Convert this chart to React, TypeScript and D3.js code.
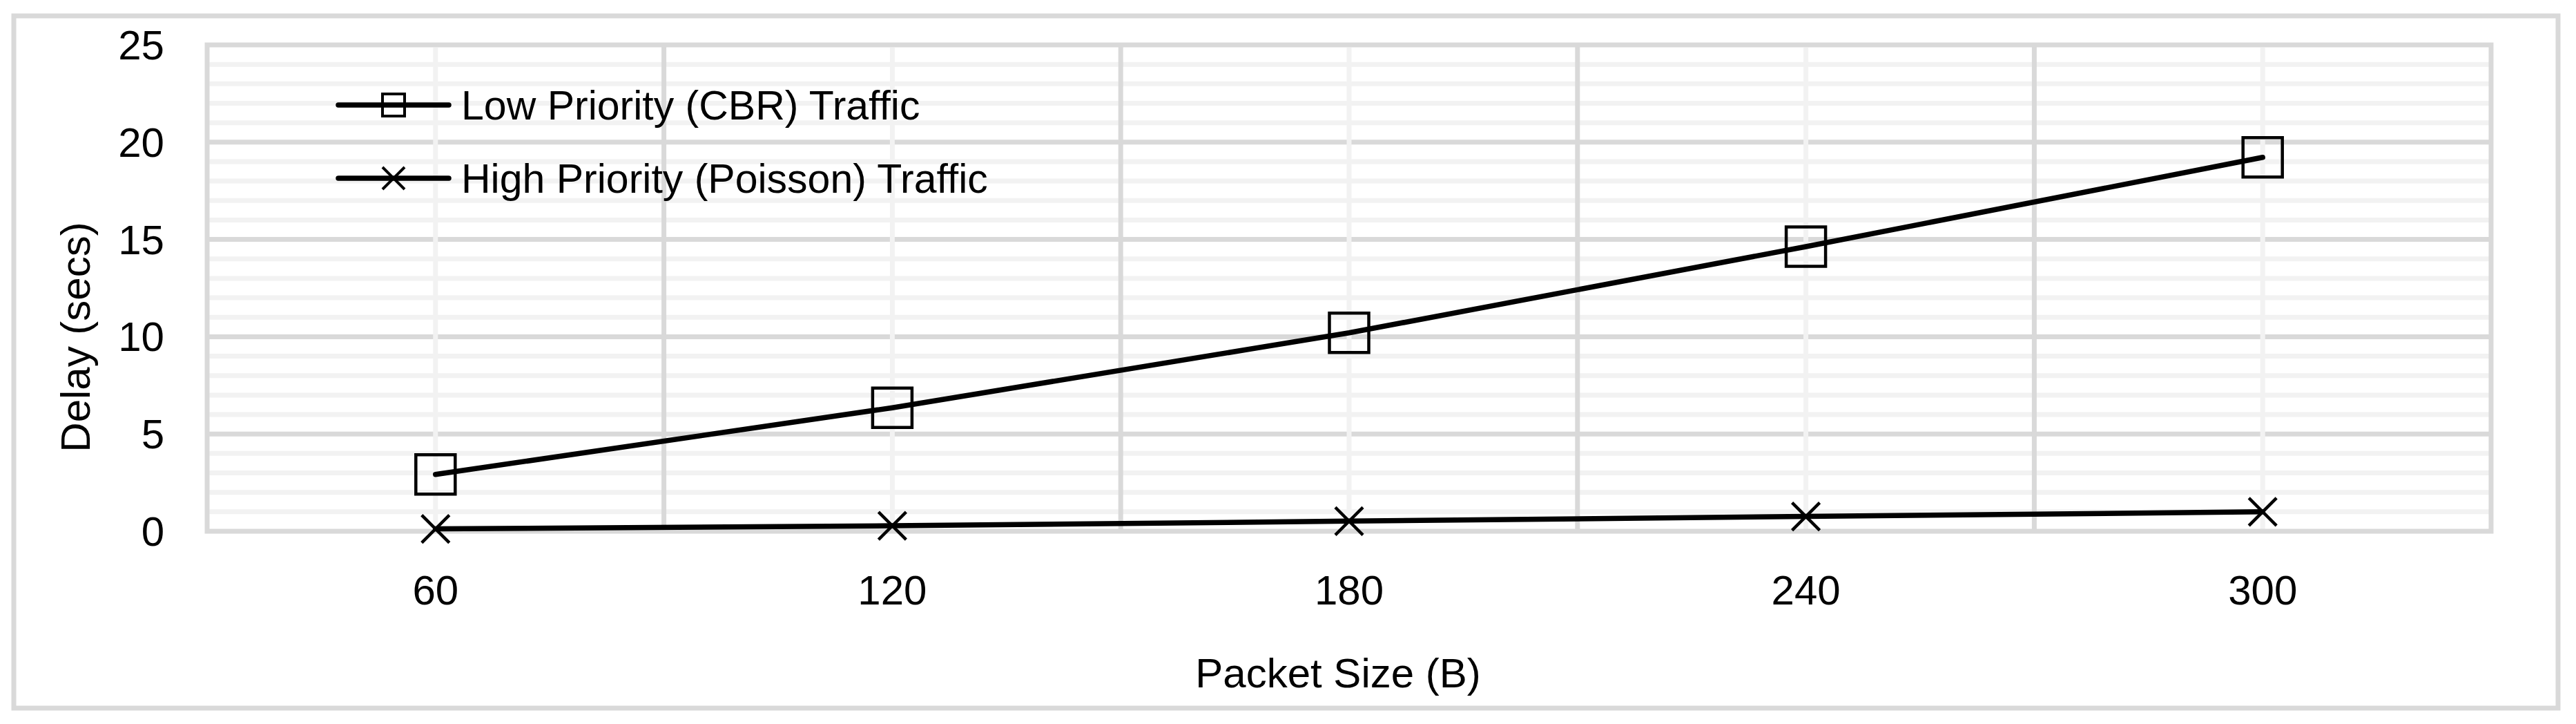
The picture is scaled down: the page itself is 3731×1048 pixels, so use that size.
import React, { useEffect, useRef } from "react";
import * as d3 from "d3";

// packet sizes on the x axis
const packetSizes = ["60", "120", "180", "240", "300"];
// delay in seconds
const lowPriorityDelay = [2.92, 6.35, 10.2, 14.63, 19.22];
const highPriorityDelay = [0.12, 0.28, 0.52, 0.76, 1.0];
const yTicks = [0, 5, 10, 15, 20, 25];
const seriesNames = ["Low Priority (CBR) Traffic", "High Priority (Poisson) Traffic"];

const WIDTH = 3731;
const HEIGHT = 1048;

const App = () => {
  const svgRef = useRef<SVGSVGElement>(null);

  useEffect(() => {
    const svg = d3.select(svgRef.current);
    svg.selectAll("*").remove();

    const font = "'Liberation Sans', Arial, sans-serif";
    const fontSize = 60;
    const margin = { top: 65, right: 123, bottom: 279, left: 300 };
    const plotRight = WIDTH - margin.right;
    const plotBottom = HEIGHT - margin.bottom;

    const xScale = d3.scaleBand<string>()
      .domain(packetSizes)
      .range([margin.left, plotRight])
      .padding(0);
    const yScale = d3.scaleLinear()
      .domain([0, 25])
      .range([plotBottom, margin.top]);
    const xc = (d: string) => (xScale(d) as number) + xScale.bandwidth() / 2;

    // white background + outer chart border
    svg.append("rect")
      .attr("x", 20).attr("y", 23)
      .attr("width", 3685).attr("height", 1002)
      .attr("fill", "white")
      .attr("stroke", "#d9d9d9")
      .attr("stroke-width", 7);

    const grid = svg.append("g");

    // minor horizontal gridlines (every 1)
    grid.selectAll(".hminor")
      .data(d3.range(1, 25).filter((v) => v % 5 !== 0))
      .join("line")
      .attr("x1", margin.left).attr("x2", plotRight)
      .attr("y1", (d) => yScale(d)).attr("y2", (d) => yScale(d))
      .attr("stroke", "#f2f2f2").attr("stroke-width", 7);

    // major horizontal gridlines
    grid.selectAll(".hmajor")
      .data([5, 10, 15, 20])
      .join("line")
      .attr("x1", margin.left).attr("x2", plotRight)
      .attr("y1", (d) => yScale(d)).attr("y2", (d) => yScale(d))
      .attr("stroke", "#d9d9d9").attr("stroke-width", 7);

    // vertical major lines at category boundaries
    grid.selectAll(".vmajor")
      .data(packetSizes.slice(1))
      .join("line")
      .attr("x1", (d) => xScale(d) as number).attr("x2", (d) => xScale(d) as number)
      .attr("y1", margin.top).attr("y2", plotBottom)
      .attr("stroke", "#d9d9d9").attr("stroke-width", 7);

    // vertical minor lines at category centers
    grid.selectAll(".vminor")
      .data(packetSizes)
      .join("line")
      .attr("x1", xc).attr("x2", xc)
      .attr("y1", margin.top + 4).attr("y2", plotBottom)
      .attr("stroke", "#f2f2f2").attr("stroke-width", 7);

    // plot area border
    svg.append("rect")
      .attr("x", margin.left).attr("y", margin.top)
      .attr("width", plotRight - margin.left).attr("height", plotBottom - margin.top)
      .attr("fill", "none")
      .attr("stroke", "#d9d9d9").attr("stroke-width", 7);

    // y tick labels
    svg.append("g")
      .selectAll("text")
      .data(yTicks)
      .join("text")
      .attr("x", 238)
      .attr("y", (d) => yScale(d))
      .attr("dy", "0.35em")
      .attr("text-anchor", "end")
      .attr("font-family", font).attr("font-size", fontSize)
      .text((d) => d);

    // x tick labels
    svg.append("g")
      .selectAll("text")
      .data(packetSizes)
      .join("text")
      .attr("x", xc)
      .attr("y", 875)
      .attr("text-anchor", "middle")
      .attr("font-family", font).attr("font-size", fontSize)
      .text((d) => d);

    // axis titles
    svg.append("text")
      .attr("x", (margin.left + plotRight) / 2 - 16)
      .attr("y", 995)
      .attr("text-anchor", "middle")
      .attr("font-family", font).attr("font-size", fontSize)
      .text("Packet Size (B)");

    svg.append("text")
      .attr("transform", "translate(130,488) rotate(-90)")
      .attr("text-anchor", "middle")
      .attr("font-family", font).attr("font-size", fontSize)
      .text("Delay (secs)");

    const line = d3.line<number>()
      .x((_, i) => xc(packetSizes[i]))
      .y((d) => yScale(d));

    const squarePath = (cx: number, cy: number, s: number) =>
      `M${cx - s / 2},${cy - s / 2}h${s}v${s}h${-s}Z`;
    const crossPath = (cx: number, cy: number, s: number) =>
      `M${cx - s / 2},${cy - s / 2}L${cx + s / 2},${cy + s / 2}M${cx + s / 2},${cy - s / 2}L${cx - s / 2},${cy + s / 2}`;

    const series = [
      { values: lowPriorityDelay, marker: squarePath, size: 57 },
      { values: highPriorityDelay, marker: crossPath, size: 40 },
    ];

    series.forEach((s) => {
      svg.append("path")
        .datum(s.values)
        .attr("d", line)
        .attr("fill", "none")
        .attr("stroke", "black")
        .attr("stroke-width", 7.5)
        .attr("stroke-linecap", "round")
        .attr("stroke-linejoin", "round");

      svg.append("g")
        .selectAll("path")
        .data(s.values)
        .join("path")
        .attr("d", (d, i) => s.marker(xc(packetSizes[i]), yScale(d), s.size))
        .attr("fill", "none")
        .attr("stroke", "black")
        .attr("stroke-width", 4.5);
    });

    // legend
    const legendRows = [152, 258];
    const legendMarkerSizes = [32, 32];
    const legend = svg.append("g");
    seriesNames.forEach((name, i) => {
      const y = legendRows[i];
      legend.append("line")
        .attr("x1", 490).attr("x2", 650)
        .attr("y1", y).attr("y2", y)
        .attr("stroke", "black").attr("stroke-width", 7.5)
        .attr("stroke-linecap", "round");
      legend.append("path")
        .attr("d", series[i].marker(570, y, legendMarkerSizes[i]))
        .attr("fill", "none")
        .attr("stroke", "black").attr("stroke-width", 4);
      legend.append("text")
        .attr("x", 668)
        .attr("y", y)
        .attr("dy", "0.35em")
        .attr("font-family", font).attr("font-size", fontSize - 1)
        .text(name);
    });
  }, []);

  return (
    <svg
      ref={svgRef}
      width={WIDTH}
      height={HEIGHT}
      style={{ position: "absolute", left: 0, top: 0, background: "white" }}
    ></svg>
  );
};

export default App;
